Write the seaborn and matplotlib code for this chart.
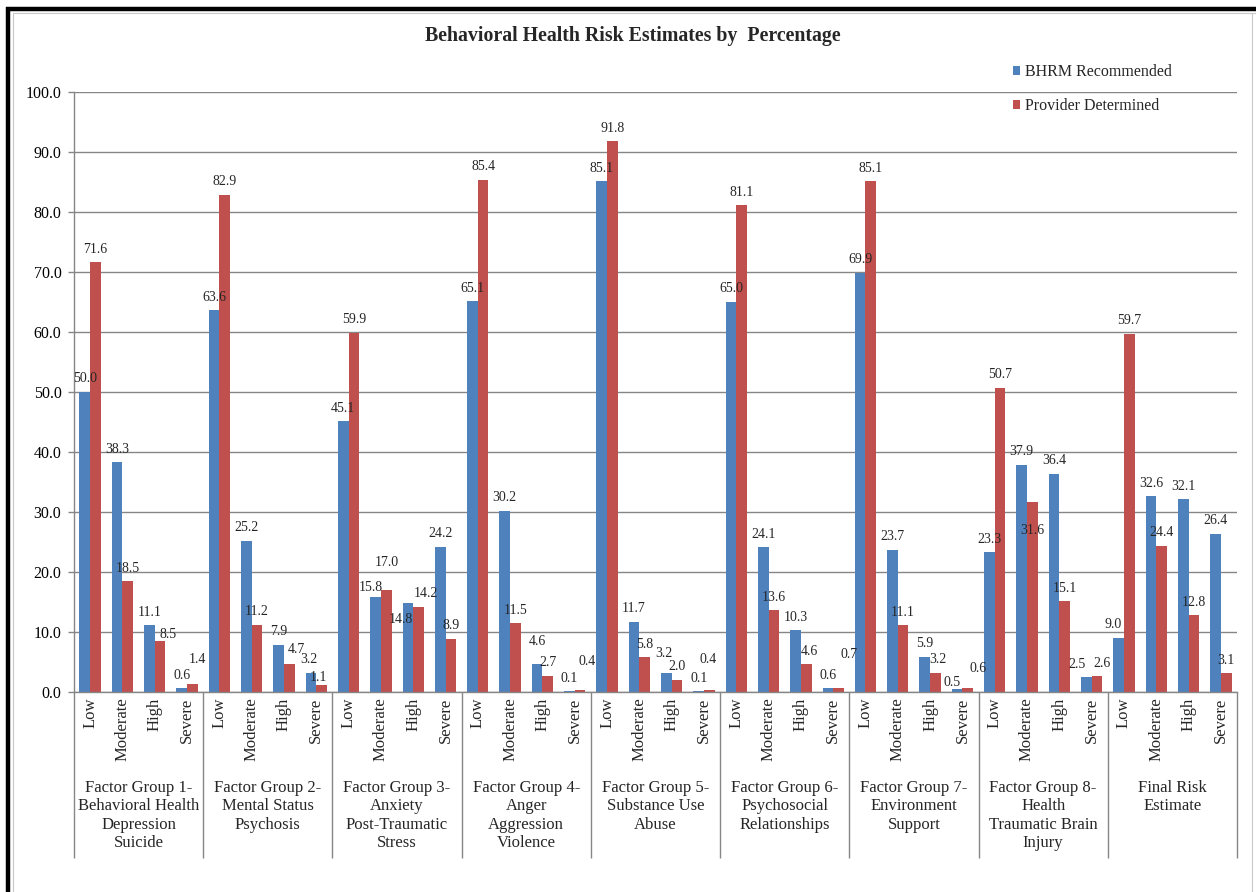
import numpy as np
import pandas as pd
import matplotlib
matplotlib.use("Agg")
import matplotlib.pyplot as plt
import matplotlib.transforms as mtrans
from matplotlib.lines import Line2D
from matplotlib.patches import Patch
import seaborn as sns

# ---------------- data ----------------
groups = [
    "Factor Group 1-\nBehavioral Health\nDepression\nSuicide",
    "Factor Group 2-\nMental Status\nPsychosis",
    "Factor Group 3-\nAnxiety\nPost-Traumatic\nStress",
    "Factor Group 4-\nAnger\nAggression\nViolence",
    "Factor Group 5-\nSubstance Use\nAbuse",
    "Factor Group 6-\nPsychosocial\nRelationships",
    "Factor Group 7-\nEnvironment\nSupport",
    "Factor Group 8-\nHealth\nTraumatic Brain\nInjury",
    "Final Risk\nEstimate",
]
levels = ["Low", "Moderate", "High", "Severe"]
series_names = ["BHRM Recommended", "Provider Determined"]

bhrm = [
    [50.0, 38.3, 11.1, 0.6],
    [63.6, 25.2, 7.9, 3.2],
    [45.1, 15.8, 14.8, 24.2],
    [65.1, 30.2, 4.6, 0.1],
    [85.1, 11.7, 3.2, 0.1],
    [65.0, 24.1, 10.3, 0.6],
    [69.9, 23.7, 5.9, 0.5],
    [23.3, 37.9, 36.4, 2.5],
    [9.0, 32.6, 32.1, 26.4],
]
provider = [
    [71.6, 18.5, 8.5, 1.4],
    [82.9, 11.2, 4.7, 1.1],
    [59.9, 17.0, 14.2, 8.9],
    [85.4, 11.5, 2.7, 0.4],
    [91.8, 5.8, 2.0, 0.4],
    [81.1, 13.6, 4.6, 0.7],
    [85.1, 11.1, 3.2, 0.6],
    [50.7, 31.6, 15.1, 2.6],
    [59.7, 24.4, 12.8, 3.1],
]
colors = ["#4F81BD", "#C0504D"]
title = "Behavioral Health Risk Estimates by  Percentage"

# label nudges (series, group, level) -> (dx, dy) in pixels, as placed in the source
label_nudge = {
    (1, 0, 2): (8, -6), (1, 0, 3): (5, 11),
    (1, 1, 2): (7, 1), (0, 1, 3): (-2, 0), (1, 1, 3): (-3, -5),
    (0, 2, 1): (-5, -3), (1, 2, 1): (1, 14), (0, 2, 2): (-7, -29), (1, 2, 2): (7, 0),
    (0, 3, 2): (0, 10), (1, 3, 3): (7, 15),
    (0, 4, 2): (-2, 6), (1, 4, 3): (-1, 17),
    (1, 5, 2): (3.5, 0), (1, 5, 3): (11, 20),
    (1, 6, 2): (2.5, 0), (0, 6, 3): (-5, -7), (1, 6, 3): (10, 7),
    (1, 7, 1): (0, -41), (0, 7, 3): (-9.5, 0), (1, 7, 3): (5, 0),
    (0, 8, 0): (-5, 0),
}

# ---------------- table ----------------
rows = []
keys = []
for gi in range(len(groups)):
    for li, lv in enumerate(levels):
        key = f"{gi}|{lv}"
        keys.append(key)
        rows.append((key, series_names[0], bhrm[gi][li]))
        rows.append((key, series_names[1], provider[gi][li]))
df = pd.DataFrame(rows, columns=["cat", "series", "value"])

# ---------------- plot ----------------
sns.set_theme(style="white")
plt.rcParams["font.family"] = ["Liberation Serif", "DejaVu Serif"]

fig = plt.figure(figsize=(12.56, 8.92), dpi=100)
ax = fig.add_axes([74 / 1256, 1 - 692 / 892, (1237 - 74) / 1256, 600 / 892])

sns.barplot(data=df, x="cat", y="value", hue="series", order=keys,
            hue_order=series_names, palette=colors, width=0.66,
            errorbar=None, saturation=1, linewidth=0, legend=False, ax=ax)

grey = "#868686"
ax.set_ylim(0, 100)
ax.set_xlim(-0.5, len(keys) - 0.5)
ax.set_yticks(np.arange(0, 101, 10))
ax.yaxis.set_major_formatter("{x:.1f}")
ax.grid(axis="y", color=grey, lw=1)
ax.set_axisbelow(True)
for s in ["top", "right"]:
    ax.spines[s].set_visible(False)
for s in ["left", "bottom"]:
    ax.spines[s].set_color(grey)
    ax.spines[s].set_linewidth(1)
ax.set_xlabel("")
ax.set_ylabel("")

ax.tick_params(axis="y", which="major", length=4, color=grey, width=1,
               pad=5, labelsize=11.5, labelcolor="black", left=True)
ax.set_xticks(range(len(keys)))
ax.set_xticklabels(levels * len(groups), rotation=90, fontsize=12)
ax.tick_params(axis="x", which="major", length=0, pad=4)
ax.set_xticks(np.arange(-0.5, len(keys), 4), minor=True)
ax.tick_params(axis="x", which="minor", length=119.5, color=grey, width=1,
               bottom=True)

# data labels, centred above each bar (with the source's manual nudges)
for si, cont in enumerate(ax.containers):
    for idx, bar in enumerate(cont.patches):
        gi, li = divmod(idx, len(levels))
        h = bar.get_height()
        dx, dy = label_nudge.get((si, gi, li), (0, 0))
        ax.annotate(f"{h:.1f}", xy=(bar.get_x() + bar.get_width() / 2, h),
                    xytext=(dx, 13 + dy), textcoords="offset pixels",
                    ha="center", va="center", fontsize=10)

# group labels
trans = mtrans.blended_transform_factory(ax.transData, ax.transAxes)
for gi, g in enumerate(groups):
    ax.text(4 * gi + 1.5, -(780 - 692) / 600, g, transform=trans,
            ha="center", va="top", fontsize=12, linespacing=1.2)

# title
fig.text(632.5 / 1256, 1 - 36 / 892, title, ha="center", va="center",
         fontsize=14.3, fontweight="bold")

# legend
handles = [Patch(facecolor=c, edgecolor="none") for c in colors]
fig.legend(handles, series_names, loc="upper left",
           bbox_to_anchor=(1005 / 1256, 1 - 56 / 892),
           bbox_transform=fig.transFigure, frameon=False, fontsize=11.5,
           handlelength=0.45, handleheight=0.45, handletextpad=0.3,
           labelspacing=1.15, borderpad=0)

# page frame
fig.add_artist(Line2D([12.5 / 1256, 12.5 / 1256], [0, 1 - 12.5 / 892],
                      transform=fig.transFigure, color="#c8c8c8", lw=0.8))
fig.add_artist(Line2D([12.5 / 1256, 1], [1 - 12.5 / 892, 1 - 12.5 / 892],
                      transform=fig.transFigure, color="#c8c8c8", lw=0.8))
fig.add_artist(Line2D([1252 / 1256, 1252 / 1256], [0, 1 - 12.5 / 892],
                      transform=fig.transFigure, color="#c8c8c8", lw=0.8))
fig.add_artist(Line2D([8 / 1256, 8 / 1256], [0, 1 - 7 / 892],
                      transform=fig.transFigure, color="black", lw=3.2,
                      solid_capstyle="butt"))
fig.add_artist(Line2D([6 / 1256, 1], [1 - 9 / 892, 1 - 9 / 892],
                      transform=fig.transFigure, color="black", lw=3.2,
                      solid_capstyle="butt"))

fig.savefig("out.png", dpi=100)
